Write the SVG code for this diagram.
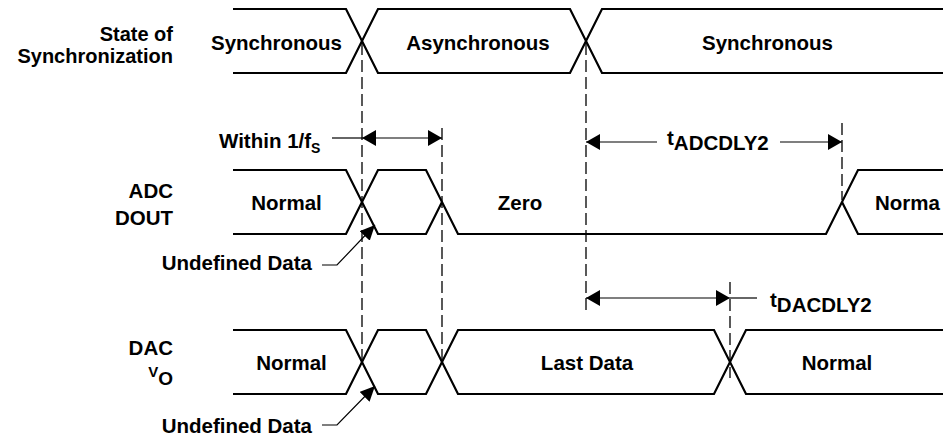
<svg xmlns="http://www.w3.org/2000/svg" width="943" height="439" viewBox="0 0 943 439">
<style>
text{font-family:"Liberation Sans",Arial,Helvetica,sans-serif;font-weight:bold;font-size:20.5px;fill:#000}
.r{text-anchor:end}
.m{text-anchor:middle}
.s{font-size:20px}
.w{fill:none;stroke:#000;stroke-width:2.2;stroke-linejoin:miter}
.d{fill:none;stroke:#000;stroke-width:1.3;stroke-dasharray:12 5}
.a{fill:none;stroke:#000;stroke-width:1.2}
</style>
<defs>
<marker id="ah" viewBox="0 0 14 16" refX="14" refY="8" markerWidth="14" markerHeight="16" markerUnits="userSpaceOnUse" orient="auto-start-reverse"><path d="M0,0 L14,8 L0,16 z" fill="#000"/></marker>
<marker id="ah2" viewBox="0 0 15 14" refX="15" refY="7" markerWidth="15" markerHeight="14" markerUnits="userSpaceOnUse" orient="auto"><path d="M0,0 L15,7 L0,14 z" fill="#000"/></marker>
</defs>
<g id="labels">
<text class="r s" x="173" y="41">State of</text>
<text class="r s" x="173" y="63">Synchronization</text>
<text class="r" x="173" y="198">ADC</text>
<text class="r" x="173" y="225">DOUT</text>
<text class="r" x="173" y="355">DAC</text>
<text class="r" x="173" y="385"><tspan font-size="15" dy="-8">V</tspan><tspan font-size="19" dy="8">O</tspan></text>
</g>
<g id="sync-row">
<path class="w" d="M233,9 H346 L378,73 H570 L602,9 H943"/>
<path class="w" d="M233,73 H346 L378,9 H570 L602,73 H943"/>
<text class="m" x="276.5" y="50">Synchronous</text>
<text class="m" x="478" y="50">Asynchronous</text>
<text class="m" x="767.5" y="50">Synchronous</text>
</g>
<g id="adc-row">
<path class="w" d="M233,170 H346 L378,234 H426 L442,202"/>
<path class="w" d="M233,234 H346 L378,170 H426 L458,234 H826 L858,170 H943"/>
<path class="w" d="M842,202 L858,234 H943"/>
<text class="m" x="286.5" y="210">Normal</text>
<text class="m" x="520" y="210">Zero</text>
<text x="875" y="210">Norma</text>
</g>
<g id="dac-row">
<path class="w" d="M233,330 H346 L378,394 H426 L458,330 H714 L746,394 H943"/>
<path class="w" d="M233,394 H346 L378,330 H426 L458,394 H714 L746,330 H943"/>
<text class="m" x="291.5" y="370">Normal</text>
<text class="m" x="587" y="370">Last Data</text>
<text class="m" x="837" y="370">Normal</text>
</g>
<g id="connectors">
<line class="d" x1="362" y1="43" x2="362" y2="362"/>
<line class="d" x1="442" y1="128" x2="442" y2="362"/>
<line class="d" x1="586" y1="43" x2="586" y2="312"/>
<line class="d" x1="842" y1="123" x2="842" y2="200"/>
<line class="d" x1="730" y1="282" x2="730" y2="378"/>
<line class="a" x1="332" y1="138" x2="362" y2="138"/>
<line class="a" x1="362" y1="138" x2="442" y2="138" marker-start="url(#ah)" marker-end="url(#ah)"/>
<line class="a" x1="586" y1="142" x2="657" y2="142" marker-start="url(#ah)"/>
<line class="a" x1="780" y1="142" x2="842" y2="142" marker-end="url(#ah)"/>
<line class="a" x1="586" y1="298" x2="730" y2="298" marker-start="url(#ah)" marker-end="url(#ah)"/>
<line class="a" x1="730" y1="298" x2="757" y2="298"/>
<polyline class="a" points="322,265 337,265 375,225" marker-end="url(#ah2)"/>
<polyline class="a" points="322,425 337,425 375,386" marker-end="url(#ah2)"/>
</g>
<g id="annotations">
<text x="219" y="148">Within 1/f<tspan font-size="14" dy="5">S</tspan></text>
<text x="667" y="145">t<tspan dy="5">ADCDLY2</tspan></text>
<text x="770" y="307">t<tspan dy="5">DACDLY2</tspan></text>
<text class="r" x="312" y="270">Undefined Data</text>
<text class="r" x="312" y="433">Undefined Data</text>
</g>
</svg>
